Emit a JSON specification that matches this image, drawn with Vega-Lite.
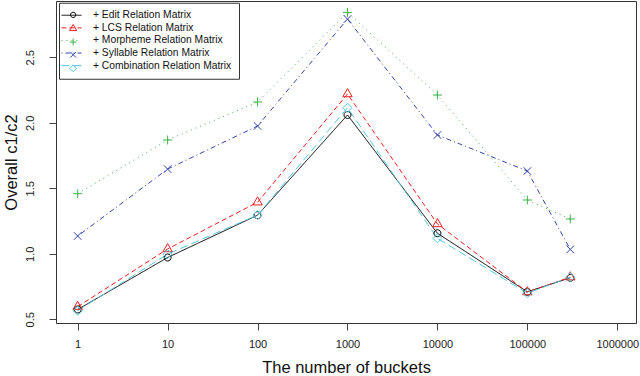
{
  "$schema": "https://vega.github.io/schema/vega-lite/v6.json",
  "width": 580,
  "height": 322,
  "autosize": {"type": "none"},
  "padding": {"left": 56, "top": 1, "right": 4, "bottom": 53},
  "background": "white",
  "config": {"view": {"stroke": "#333", "strokeWidth": 1}, "font": "Liberation Sans"},
  "data": {
    "values": [
      {"buckets": 1, "series": "+ Edit Relation Matrix", "value": 0.575},
      {"buckets": 10, "series": "+ Edit Relation Matrix", "value": 0.972},
      {"buckets": 100, "series": "+ Edit Relation Matrix", "value": 1.295},
      {"buckets": 1000, "series": "+ Edit Relation Matrix", "value": 2.06},
      {"buckets": 10000, "series": "+ Edit Relation Matrix", "value": 1.157},
      {"buckets": 100000, "series": "+ Edit Relation Matrix", "value": 0.71},
      {"buckets": 300000, "series": "+ Edit Relation Matrix", "value": 0.817},
      {"buckets": 1, "series": "+ LCS Relation Matrix", "value": 0.597},
      {"buckets": 10, "series": "+ LCS Relation Matrix", "value": 1.037},
      {"buckets": 100, "series": "+ LCS Relation Matrix", "value": 1.394},
      {"buckets": 1000, "series": "+ LCS Relation Matrix", "value": 2.22},
      {"buckets": 10000, "series": "+ LCS Relation Matrix", "value": 1.228},
      {"buckets": 100000, "series": "+ LCS Relation Matrix", "value": 0.708},
      {"buckets": 300000, "series": "+ LCS Relation Matrix", "value": 0.822},
      {"buckets": 1, "series": "+ Morpheme Relation Matrix", "value": 1.459},
      {"buckets": 10, "series": "+ Morpheme Relation Matrix", "value": 1.869},
      {"buckets": 100, "series": "+ Morpheme Relation Matrix", "value": 2.159},
      {"buckets": 1000, "series": "+ Morpheme Relation Matrix", "value": 2.843},
      {"buckets": 10000, "series": "+ Morpheme Relation Matrix", "value": 2.212},
      {"buckets": 100000, "series": "+ Morpheme Relation Matrix", "value": 1.411},
      {"buckets": 300000, "series": "+ Morpheme Relation Matrix", "value": 1.266},
      {"buckets": 1, "series": "+ Syllable Relation Matrix", "value": 1.136},
      {"buckets": 10, "series": "+ Syllable Relation Matrix", "value": 1.647},
      {"buckets": 100, "series": "+ Syllable Relation Matrix", "value": 1.976},
      {"buckets": 1000, "series": "+ Syllable Relation Matrix", "value": 2.792},
      {"buckets": 10000, "series": "+ Syllable Relation Matrix", "value": 1.907},
      {"buckets": 100000, "series": "+ Syllable Relation Matrix", "value": 1.632},
      {"buckets": 300000, "series": "+ Syllable Relation Matrix", "value": 1.034},
      {"buckets": 1, "series": "+ Combination Relation Matrix", "value": 0.566},
      {"buckets": 10, "series": "+ Combination Relation Matrix", "value": 0.998},
      {"buckets": 100, "series": "+ Combination Relation Matrix", "value": 1.296},
      {"buckets": 1000, "series": "+ Combination Relation Matrix", "value": 2.115},
      {"buckets": 10000, "series": "+ Combination Relation Matrix", "value": 1.118},
      {"buckets": 100000, "series": "+ Combination Relation Matrix", "value": 0.7},
      {"buckets": 300000, "series": "+ Combination Relation Matrix", "value": 0.822}
    ]
  },
  "encoding": {
    "x": {
      "field": "buckets",
      "type": "quantitative",
      "scale": {"type": "log", "domain": [0.574, 1614000], "nice": false},
      "axis": {
        "values": [1, 10, 100, 1000, 10000, 100000, 1000000],
        "format": "d",
        "title": "The number of buckets",
        "grid": false,
        "domain": false,
        "tickSize": 7,
        "tickColor": "#444",
        "labelFontSize": 11,
        "labelColor": "#222",
        "labelPadding": 8,
        "labelFont": "Liberation Sans",
        "labelFlush": false,
        "labelOverlap": false,
        "titleFontSize": 16.5,
        "titleFont": "Liberation Sans",
        "titleFontWeight": "normal",
        "titleColor": "#111",
        "titleBaseline": "alphabetic",
        "titleY": 49.5
      }
    },
    "y": {
      "field": "value",
      "type": "quantitative",
      "scale": {"domain": [0.472, 2.93], "nice": false, "zero": false},
      "axis": {
        "values": [0.5, 1, 1.5, 2, 2.5],
        "format": ".1f",
        "title": "Overall c1/c2",
        "grid": false,
        "domain": false,
        "tickSize": 7,
        "tickColor": "#444",
        "labelFontSize": 11,
        "labelColor": "#222",
        "labelFont": "Liberation Sans",
        "labelAngle": 270,
        "labelAlign": "center",
        "labelBaseline": "alphabetic",
        "labelPadding": 15.7,
        "labelFlush": false,
        "labelOverlap": false,
        "titleFontSize": 16.5,
        "titleFont": "Liberation Sans",
        "titleFontWeight": "normal",
        "titleColor": "#111",
        "titleAngle": 270,
        "titleAlign": "center",
        "titleBaseline": "alphabetic",
        "titleX": -40,
        "titleY": 161
      }
    }
  },
  "layer": [
    {
      "mark": {"type": "line", "strokeWidth": 1},
      "encoding": {
        "color": {
          "field": "series",
          "type": "nominal",
          "scale": {
            "domain": ["+ Edit Relation Matrix", "+ LCS Relation Matrix", "+ Morpheme Relation Matrix", "+ Syllable Relation Matrix", "+ Combination Relation Matrix"],
            "range": ["#000000", "#EE2222", "#3CB54A", "#3344AA", "#55C7E0"]
          },
          "legend": {
            "orient": "none",
            "legendX": 3,
            "legendY": 1.75,
            "title": null,
            "padding": 7,
            "fillColor": "white",
            "strokeColor": "#333",
            "symbolType": "M-2,0H2",
            "symbolSize": 100,
            "symbolStrokeWidth": 1,
            "labelFont": "Liberation Sans",
            "labelFontSize": 10.3,
            "labelColor": "#111",
            "labelOffset": 16,
            "labelLimit": 400,
            "rowPadding": 1.6
          }
        },
        "strokeDash": {
          "field": "series",
          "type": "nominal",
          "scale": {
            "domain": ["+ Edit Relation Matrix", "+ LCS Relation Matrix", "+ Morpheme Relation Matrix", "+ Syllable Relation Matrix", "+ Combination Relation Matrix"],
            "range": [[1, 0], [5, 3], [1, 4], [1, 3, 5, 3], [8, 4]]
          }
        }
      }
    },
    {
      "mark": {"type": "point", "filled": false, "size": 64, "strokeWidth": 1, "opacity": 1},
      "encoding": {
        "stroke": {
          "field": "series",
          "type": "nominal",
          "scale": {
            "domain": ["+ Edit Relation Matrix", "+ LCS Relation Matrix", "+ Morpheme Relation Matrix", "+ Syllable Relation Matrix", "+ Combination Relation Matrix", " "],
            "range": ["#000000", "#EE2222", "#3CB54A", "#3344AA", "#55C7E0", "transparent"]
          },
          "legend": {
            "orient": "none",
            "legendX": 5,
            "legendY": 1.75,
            "title": null,
            "padding": 7,
            "symbolSize": 36,
            "symbolStrokeWidth": 1,
            "labelFont": "Liberation Sans",
            "labelFontSize": 10.3,
            "labelColor": "transparent",
            "labelExpr": "' '",
            "labelOffset": 16,
            "labelLimit": 400,
            "rowPadding": 1.6
          }
        },
        "shape": {
          "field": "series",
          "type": "nominal",
          "scale": {
            "domain": ["+ Edit Relation Matrix", "+ LCS Relation Matrix", "+ Morpheme Relation Matrix", "+ Syllable Relation Matrix", "+ Combination Relation Matrix", " "],
            "range": [
              "M0.875,0A0.875,0.875 0 1,1 -0.875,0A0.875,0.875 0 1,1 0.875,0Z",
              "M0,-1.35L1.17,0.68L-1.17,0.68Z",
              "M-1.125,0H1.125M0,-1.125V1.125",
              "M-0.95,-0.95L0.95,0.95M-0.95,0.95L0.95,-0.95",
              "M0,-1.125L1.125,0L0,1.125L-1.125,0Z",
              "M0,0"
            ]
          }
        }
      }
    }
  ]
}
